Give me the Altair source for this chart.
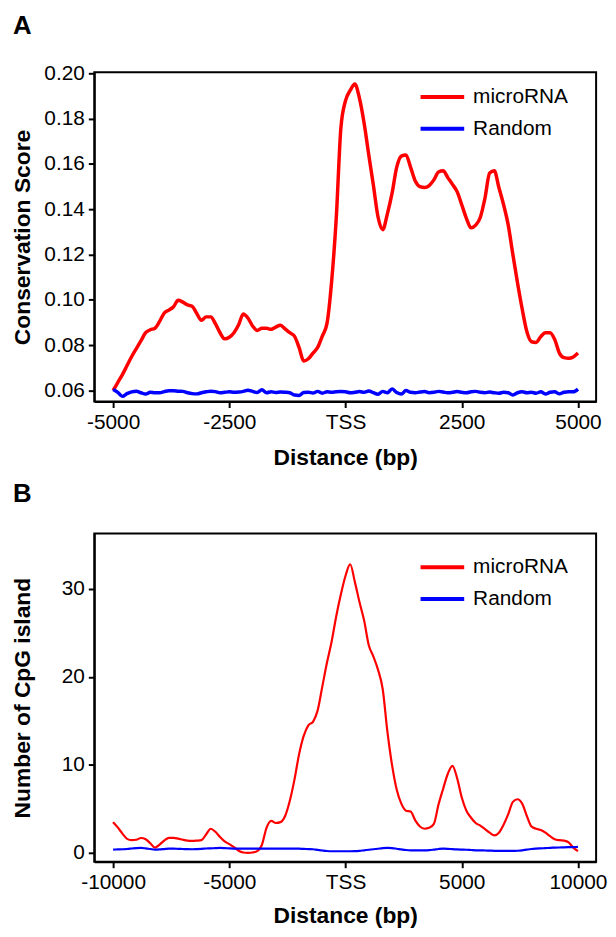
import altair as alt
import pandas as pd

FONT = "Liberation Sans"

# ---------------- Panel A data (conservation score) ----------------
a_x = list(range(-5000, 5001, 100))
a_microrna = [
    0.0600, 0.0635, 0.0670, 0.0710, 0.0750, 0.0785, 0.0820, 0.0855, 0.0868, 0.0875,
    0.0905, 0.0942, 0.0955, 0.0970, 0.0998, 0.0990, 0.0978, 0.0972, 0.0940, 0.0910,
    0.0925, 0.0925, 0.0895, 0.0855, 0.0828, 0.0835, 0.0855, 0.0890, 0.0938, 0.0920,
    0.0885, 0.0865, 0.0875, 0.0875, 0.0870, 0.0880, 0.0888, 0.0872, 0.0855, 0.0840,
    0.0790, 0.0730, 0.0740, 0.0765, 0.0790, 0.0840, 0.0895, 0.1080, 0.1360, 0.1760,
    0.1880, 0.1925, 0.1953, 0.1890, 0.1780, 0.1640, 0.1505, 0.1365, 0.1310, 0.1380,
    0.1470, 0.1585, 0.1635, 0.1640, 0.1585, 0.1525, 0.1500, 0.1496, 0.1505, 0.1530,
    0.1565, 0.1570, 0.1540, 0.1510, 0.1478, 0.1420, 0.1360, 0.1318, 0.1330, 0.1365,
    0.1450, 0.1560, 0.1570, 0.1495, 0.1420, 0.1330, 0.1200, 0.1075, 0.0960, 0.0860,
    0.0815, 0.0812, 0.0838, 0.0855, 0.0855, 0.0825, 0.0765, 0.0745, 0.0742, 0.0748,
    0.0765,
]
a_random = [
    0.0604, 0.0592, 0.0574, 0.0586, 0.0594, 0.0597, 0.0590, 0.0584, 0.0592, 0.0590,
    0.0590, 0.0595, 0.0599, 0.0599, 0.0597, 0.0596, 0.0590, 0.0586, 0.0585, 0.0590,
    0.0594, 0.0597, 0.0595, 0.0590, 0.0592, 0.0594, 0.0592, 0.0593, 0.0596, 0.0601,
    0.0596, 0.0591, 0.0603, 0.0590, 0.0594, 0.0591, 0.0593, 0.0592, 0.0590, 0.0580,
    0.0578, 0.0591, 0.0592, 0.0589, 0.0596, 0.0588, 0.0594, 0.0592, 0.0594, 0.0595,
    0.0594, 0.0590, 0.0592, 0.0595, 0.0592, 0.0598, 0.0590, 0.0583, 0.0596, 0.0590,
    0.0607, 0.0591, 0.0584, 0.0600, 0.0592, 0.0590, 0.0593, 0.0595, 0.0590, 0.0592,
    0.0596, 0.0593, 0.0590, 0.0592, 0.0595, 0.0592, 0.0590, 0.0594, 0.0596, 0.0592,
    0.0590, 0.0593, 0.0590, 0.0588, 0.0592, 0.0590, 0.0580, 0.0590, 0.0594, 0.0590,
    0.0592, 0.0588, 0.0594, 0.0584, 0.0592, 0.0594, 0.0585, 0.0592, 0.0594, 0.0594,
    0.0606,
]

# ---------------- Panel B data (CpG islands) ----------------
b_x = list(range(-10000, 10001, 200))
b_microrna = [
    3.5, 2.9, 2.2, 1.6, 1.45, 1.5, 1.7, 1.55, 1.1, 0.6,
    0.95, 1.4, 1.72, 1.72, 1.63, 1.5, 1.4, 1.37, 1.4, 1.45,
    2.1, 2.75, 2.4, 1.8, 1.3, 1.0, 0.65, 0.25, 0.05, 0.0,
    0.05, 0.2, 0.9, 2.85, 3.65, 3.4, 3.5, 4.2, 5.9, 8.3,
    11.2, 13.3, 14.5, 14.9, 16.2, 18.9, 21.6, 24.0, 26.9, 29.4,
    31.5, 32.8, 30.8, 28.5, 26.4, 23.6, 22.3, 20.8, 18.6, 13.8,
    10.0, 7.2, 5.6, 4.8, 4.7, 3.7, 3.0, 2.75, 2.85, 3.3,
    5.5, 7.3, 9.0, 9.9, 8.5, 6.3, 4.8, 4.0, 3.4, 3.1,
    2.7, 2.3, 2.0, 2.3, 3.2, 4.4, 5.8, 6.1, 5.6, 4.2,
    3.0, 2.75, 2.6, 2.3, 1.9, 1.55, 1.45, 1.4, 1.2, 0.6,
    0.2,
]
b_random = [
    0.38, 0.40, 0.42, 0.45, 0.50, 0.55, 0.57, 0.52, 0.45, 0.38,
    0.40, 0.44, 0.48, 0.49, 0.47, 0.45, 0.43, 0.42, 0.44, 0.47,
    0.50, 0.52, 0.55, 0.57, 0.55, 0.52, 0.50, 0.49, 0.49, 0.49,
    0.49, 0.49, 0.49, 0.49, 0.49, 0.49, 0.49, 0.49, 0.49, 0.49,
    0.48, 0.46, 0.44, 0.42, 0.35, 0.28, 0.22, 0.19, 0.19, 0.19,
    0.19, 0.19, 0.20, 0.24, 0.30, 0.36, 0.42, 0.48, 0.54, 0.57,
    0.55, 0.48, 0.40, 0.33, 0.30, 0.30, 0.30, 0.30, 0.32, 0.38,
    0.45, 0.49, 0.47, 0.43, 0.40, 0.38, 0.36, 0.33, 0.30, 0.30,
    0.28, 0.26, 0.24, 0.23, 0.23, 0.23, 0.23, 0.25, 0.30, 0.38,
    0.45, 0.49, 0.52, 0.55, 0.58, 0.60, 0.62, 0.64, 0.66, 0.67,
    0.68,
]

series_names = ["microRNA", "Random"]
series_colors = ["#FF0000", "#0000FF"]

a_ticks = [-5000, -2500, 0, 2500, 5000]
a_yticks = [0.06, 0.08, 0.10, 0.12, 0.14, 0.16, 0.18, 0.20]
b_ticks = [-10000, -5000, 0, 5000, 10000]
b_yticks = [0, 10, 20, 30]

df_a = pd.DataFrame(
    {"x": a_x * 2, "y": a_microrna + a_random,
     "series": ["microRNA"] * len(a_x) + ["Random"] * len(a_x)}
)
df_b = pd.DataFrame(
    {"x": b_x * 2, "y": b_microrna + b_random,
     "series": ["microRNA"] * len(b_x) + ["Random"] * len(b_x)}
)

W = 506


def legend(ly):
    return alt.Legend(
        title=None, orient="none", legendX=327, legendY=ly,
        symbolType="M-1,0H3", symbolSize=484, symbolStrokeWidth=4,
        labelFontSize=21, labelFont=FONT, labelColor="black",
        labelOffset=29, rowPadding=9, padding=0,
    )


def panel(df, letter, xdom, xticks, ydom, yticks, ylabel_expr, ytitle, sw,
          title_offset, h, ly, xtitle_pad):
    return alt.Chart(df, title=alt.TitleParams(
        letter, anchor="start", frame="group", fontSize=26, fontWeight="bold",
        font=FONT, color="black", dx=-82, offset=title_offset,
    )).mark_line(strokeWidth=sw, interpolate="monotone").encode(
        x=alt.X("x:Q", scale=alt.Scale(domain=xdom, nice=False, zero=False),
                axis=alt.Axis(values=xticks, title="Distance (bp)",
                              titlePadding=xtitle_pad,
                              labelExpr="datum.value == 0 ? 'TSS' : '' + datum.value")),
        y=alt.Y("y:Q", scale=alt.Scale(domain=ydom, nice=False, zero=False),
                axis=alt.Axis(values=yticks, title=ytitle, labelExpr=ylabel_expr,
                              titleX=-60, titleY=h / 2)),
        color=alt.Color("series:N",
                        scale=alt.Scale(domain=series_names, range=series_colors),
                        legend=legend(ly)),
        order=alt.Order("series:N", sort="descending"),
    ).properties(width=W, height=h)


chart_a = panel(df_a, "A", [-5405, 5390], a_ticks, [0.0551, 0.2005], a_yticks,
                "format(datum.value, '.2f')", "Conservation Score", 3.5, 24, 332, 12, 14)
chart_b = panel(df_b, "B", [-10810, 10780], b_ticks, [-1.0, 36.3], b_yticks,
                "'' + datum.value", "Number of CpG island", 2.2, 27, 331, 21, 12)

chart = alt.vconcat(chart_a, chart_b, spacing=10).resolve_scale(
    color="independent"
).configure(
    padding={"left": 3, "top": 0, "right": 0, "bottom": 0},
    background="white",
).configure_view(
    stroke="black", strokeWidth=2,
).configure_axis(
    grid=False, domainColor="black", domainWidth=2, tickColor="black",
    tickWidth=2, tickSize=6, labelColor="black", labelFontSize=21, labelFont=FONT,
    labelPadding=4, titleFont=FONT, titleFontSize=23, titleFontWeight="bold",
    titleColor="black",
).configure_axisX(labelPadding=4)

chart.save("out.html", embed_options={"renderer": "svg", "actions": False})
